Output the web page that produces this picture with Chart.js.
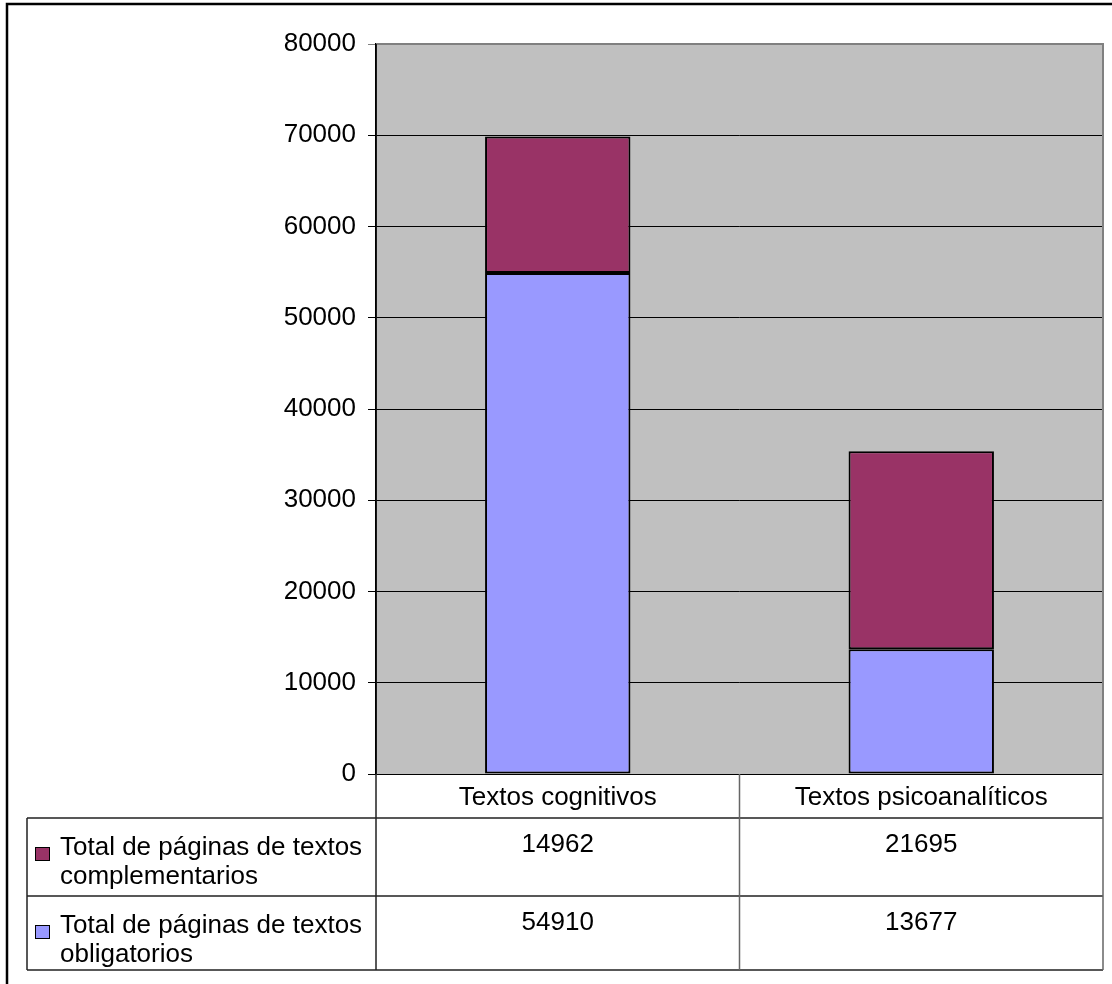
<!DOCTYPE html>
<html>
<head>
<meta charset="utf-8">
<title>Total de páginas</title>
<script src="https://cdn.jsdelivr.net/npm/chart.js@4.4.1/dist/chart.umd.min.js"></script>
<style>
  html, body { margin: 0; padding: 0; background: #fff; }
  canvas { display: block; }
</style>
</head>
<body>
<canvas id="myChart" width="1112" height="984"></canvas>
<script>
const categories = ['Textos cognitivos', 'Textos psicoanalíticos'];
const obligatorios = [54910, 13677];
const complementarios = [14962, 21695];
const seriesNames = ['Total de páginas de textos obligatorios', 'Total de páginas de textos complementarios'];
const seriesLines = [
  ['Total de páginas de textos', 'obligatorios'],
  ['Total de páginas de textos', 'complementarios']
];
const yMax = 80000;
const yStep = 10000;

const FONT = '26px "Liberation Sans", Arial, sans-serif';
const colors = ['#9999FF', '#993366'];

// gray plot background + border
const plotBackground = {
  id: 'plotBackground',
  beforeDraw(chart) {
    const { ctx, chartArea: a } = chart;
    ctx.save();
    ctx.fillStyle = '#C0C0C0';
    ctx.fillRect(a.left, a.top, a.right - a.left, a.bottom - a.top);
    ctx.restore();
  },
  afterDatasetsDraw(chart) {
    const { ctx, chartArea: a } = chart;
    ctx.save();
    ctx.strokeStyle = '#808080';
    ctx.lineWidth = 2;
    ctx.beginPath();
    ctx.moveTo(a.left, a.top);
    ctx.lineTo(a.right, a.top);
    ctx.lineTo(a.right, a.bottom);
    ctx.stroke();
    ctx.strokeStyle = '#000';
    ctx.lineWidth = 1.5;
    ctx.beginPath();
    ctx.moveTo(a.left, a.top);
    ctx.lineTo(a.left, a.bottom);
    ctx.stroke();
    ctx.restore();
  }
};

// excel style data table under the plot
const dataTable = {
  id: 'dataTable',
  afterDraw(chart) {
    const { ctx, chartArea: a } = chart;
    const x = chart.scales.x;
    const mid = (x.getPixelForValue(0) + x.getPixelForValue(1)) / 2;
    const cols = [[a.left, mid], [mid, a.right]];
    const tableLeft = 27;
    const r0 = a.bottom + 44;
    const r1 = a.bottom + 122;
    const r2 = a.bottom + 196;

    ctx.save();
    ctx.lineWidth = 1.5;
    ctx.strokeStyle = '#222';
    ctx.beginPath();
    [r0, r1, r2].forEach(y => { ctx.moveTo(tableLeft, y); ctx.lineTo(a.right, y); });
    ctx.moveTo(tableLeft, r0); ctx.lineTo(tableLeft, r2);
    ctx.moveTo(a.left, a.bottom); ctx.lineTo(a.left, r2);
    ctx.stroke();
    ctx.strokeStyle = '#666';
    ctx.beginPath();
    ctx.moveTo(mid, a.bottom); ctx.lineTo(mid, r2);
    ctx.moveTo(a.right, a.bottom); ctx.lineTo(a.right, r2);
    ctx.stroke();

    ctx.font = FONT;
    ctx.fillStyle = '#000';
    ctx.textBaseline = 'alphabetic';
    ctx.textAlign = 'center';
    categories.forEach((c, i) => {
      ctx.fillText(c, (cols[i][0] + cols[i][1]) / 2, a.bottom + 31);
    });

    // complementarios row first, then obligatorios (reversed like the stack)
    const rows = [
      { top: r0, s: 1, values: complementarios },
      { top: r1, s: 0, values: obligatorios }
    ];
    rows.forEach(row => {
      ctx.textAlign = 'center';
      ctx.fillStyle = '#000';
      row.values.forEach((v, i) => {
        ctx.fillText(String(v), (cols[i][0] + cols[i][1]) / 2, row.top + 34);
      });
      ctx.fillStyle = colors[row.s];
      ctx.fillRect(35, row.top + 29, 15, 14);
      ctx.strokeStyle = '#000';
      ctx.lineWidth = 1;
      ctx.strokeRect(35.5, row.top + 29.5, 14, 13);
      ctx.fillStyle = '#000';
      ctx.textAlign = 'left';
      ctx.fillText(seriesLines[row.s][0], 60, row.top + 37);
      ctx.fillText(seriesLines[row.s][1], 60, row.top + 66);
    });

    // outer frame
    ctx.strokeStyle = '#000';
    ctx.lineWidth = 2.5;
    ctx.strokeRect(7, 4, 1200, 1100);
    ctx.restore();
  }
};

function createChart() {
  const ctx = document.getElementById('myChart');
  new Chart(ctx, {
    type: 'bar',
    data: {
      labels: categories,
      datasets: [{
        label: seriesNames[0],
        data: obligatorios,
        backgroundColor: colors[0],
        borderColor: '#000',
        borderWidth: 2,
        borderSkipped: false,
        barPercentage: 0.4,
        categoryPercentage: 1.0
      }, {
        label: seriesNames[1],
        data: complementarios,
        backgroundColor: colors[1],
        borderColor: '#000',
        borderWidth: 2,
        borderSkipped: false,
        barPercentage: 0.4,
        categoryPercentage: 1.0
      }]
    },
    options: {
      responsive: false,
      animation: false,
      devicePixelRatio: 1,
      layout: { padding: { left: 0, top: 44, right: 9, bottom: 210 } },
      plugins: {
        legend: { display: false },
        tooltip: { enabled: false }
      },
      scales: {
        x: { stacked: true, display: false },
        y: {
          stacked: true,
          min: 0,
          max: yMax,
          afterFit(scale) { scale.width = 376; },
          ticks: {
            stepSize: yStep,
            padding: 12,
            color: '#000',
            font: { family: '"Liberation Sans", Arial, sans-serif', size: 26 },
            callback: v => String(v)
          },
          grid: {
            color: c => (c.tick && c.tick.value === yMax) ? '#808080' : '#000',
            lineWidth: 1,
            tickLength: 8
          },
          border: { display: true, color: '#000', width: 1.5 }
        }
      }
    },
    plugins: [plotBackground, dataTable]
  });
}

createChart();
</script>
</body>
</html>
